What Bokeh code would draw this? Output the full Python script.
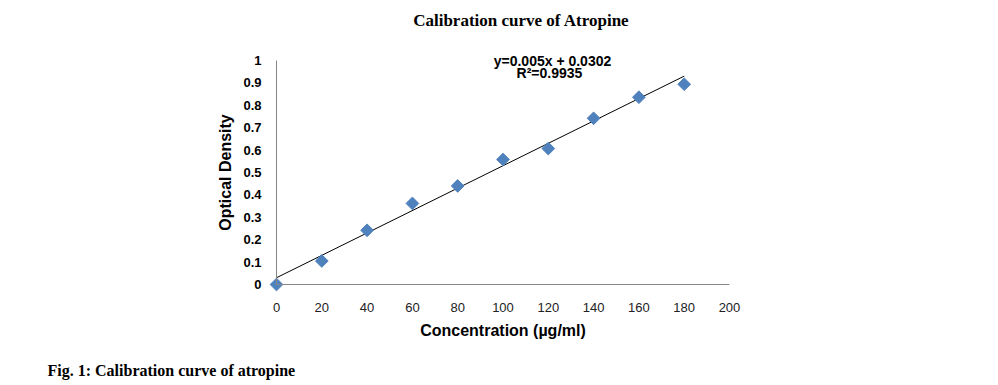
from bokeh.plotting import figure
from bokeh.models import Label, Range1d, FixedTicker
from bokeh.embed import file_html
from bokeh.resources import INLINE

# Data
concentration = [0, 20, 40, 60, 80, 100, 120, 140, 160, 180]
optical_density = [0.0, 0.105, 0.242, 0.362, 0.44, 0.558, 0.607, 0.742, 0.836, 0.894]
slope = 0.005
intercept = 0.0302
r_squared = 0.9935
x_ticks = [0, 20, 40, 60, 80, 100, 120, 140, 160, 180, 200]
y_ticks = [0, 0.1, 0.2, 0.3, 0.4, 0.5, 0.6, 0.7, 0.8, 0.9, 1]

W, H = 990, 380
px_per_x = 2.265
px_per_y = 224.0
x0_px, y0_px = 276, 284
xs = -x0_px / px_per_x
xe = xs + W / px_per_x
ye = y0_px / px_per_y
ys = ye - H / px_per_y

p = figure(width=W, height=H, output_backend="svg", toolbar_location=None,
           x_range=Range1d(xs, xe), y_range=Range1d(ys, ye), min_border=0)
p.outline_line_color = None
p.xgrid.visible = False
p.ygrid.visible = False
p.background_fill_color = "white"
p.border_fill_color = "white"

# trend line
tx = [concentration[0], concentration[-1]]
ty = [slope * v + intercept for v in tx]
p.line(tx, ty, line_color="black", line_width=1)

p.scatter(concentration, optical_density, marker="square", size=9, angle=45, angle_units="deg",
          fill_color="#4F81BD", line_color="#4F81BD")

ax = p.xaxis[0]
ax.fixed_location = 0
ax.bounds = (x_ticks[0], x_ticks[-1])
ax.ticker = FixedTicker(ticks=x_ticks)
ax.major_label_overrides = {t: str(t) for t in x_ticks}
ax.axis_line_color = "#868686"
ax.major_tick_line_color = None
ax.minor_tick_line_color = None
ax.major_label_text_font = "Arial"
ax.major_label_text_font_size = "13px"
ax.major_label_text_color = "#222222"
ax.major_label_standoff = 12
ax.axis_label = "Concentration (µg/ml)"
ax.axis_label_text_font = "Arial"
ax.axis_label_text_font_style = "bold"
ax.axis_label_text_font_size = "16px"
ax.axis_label_text_color = "black"
ax.axis_label_standoff = 7

ay = p.yaxis[0]
ay.fixed_location = 0
ay.bounds = (y_ticks[0], y_ticks[-1])
ay.ticker = FixedTicker(ticks=y_ticks)
ay.major_label_overrides = {t: ("%g" % t) for t in y_ticks}
ay.axis_line_color = "#868686"
ay.major_tick_line_color = None
ay.minor_tick_line_color = None
ay.major_label_text_font = "Arial"
ay.major_label_text_font_style = "bold"
ay.major_label_text_font_size = "13px"
ay.major_label_text_color = "black"
ay.major_label_standoff = 9
ay.axis_label = "Optical Density"
ay.axis_label_text_font = "Arial"
ay.axis_label_text_font_style = "bold"
ay.axis_label_text_font_size = "16px"
ay.axis_label_text_color = "black"
ay.axis_label_standoff = 6

p.add_layout(Label(x=109.05, y=1.1786, text="Calibration  curve of Atropine",
                   text_font="Liberation Serif", text_font_style="bold", text_font_size="17px",
                   text_align="center", text_baseline="middle", text_color="black"))
p.add_layout(Label(x=121.85, y=0.9978, text="y=%gx + %g" % (slope, intercept),
                   text_font="Arial", text_font_style="bold", text_font_size="14px",
                   text_align="center", text_baseline="middle", text_color="black"))
p.add_layout(Label(x=120.5, y=0.942, text="R²=%g" % r_squared,
                   text_font="Arial", text_font_style="bold", text_font_size="14px",
                   text_align="center", text_baseline="middle", text_color="black"))
p.add_layout(Label(x=-101.1, y=-0.384, text="Fig. 1: Calibration curve of atropine",
                   text_font="Liberation Serif", text_font_style="bold", text_font_size="16px",
                   text_align="left", text_baseline="middle", text_color="black"))

open("out.html", "w").write(file_html(p, INLINE))
